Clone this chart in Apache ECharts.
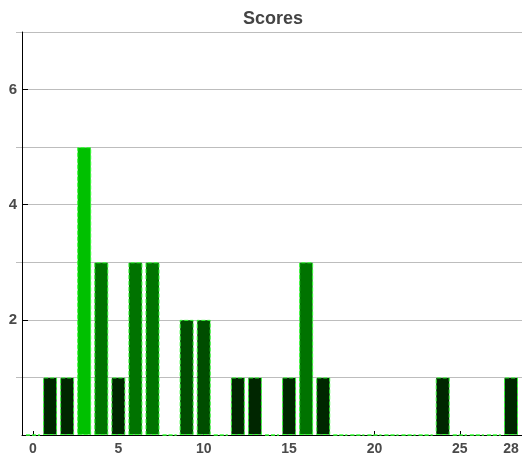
<!DOCTYPE html>
<html>
<head>
<meta charset="utf-8">
<script src="https://cdn.jsdelivr.net/npm/echarts@6/dist/echarts.min.js"></script>
<style>
html, body { margin: 0; padding: 0; background: #fff; }
#chart { width: 522px; height: 456px; }
</style>
</head>
<body>
<div id="chart"></div>
<script>
var scores = [0, 1, 2, 3, 4, 5, 6, 7, 8, 9, 10, 11, 12, 13, 14, 15, 16, 17, 18, 19, 20, 21, 22, 23, 24, 25, 26, 27, 28];
var counts = [0, 1, 1, 5, 3, 1, 3, 3, 0, 2, 2, 0, 1, 1, 0, 1, 3, 1, 0, 0, 0, 0, 0, 0, 1, 0, 0, 0, 1];
var xTicks = [0, 5, 10, 15, 20, 25, 28];
var yTicks = [2, 4, 6];
var yMinorTicks = [1, 3, 5, 7];

var font = 'Liberation Sans, Arial, Helvetica, sans-serif';
var chart = echarts.init(document.getElementById('chart'));

var points = [];
for (var i = 0; i < scores.length; i++) {
	points.push([scores[i], counts[i]]);
}

var option = {
	animation: false,
	title: {
		text: 'Scores',
		left: 268,
		textAlign: 'center',
		top: 5,
		textStyle: { fontFamily: font, fontSize: 18, fontWeight: 'bold', color: '#444' }
	},
	grid: { left: 22, right: 0, top: 32, bottom: 21 },
	visualMap: {
		show: false,
		dimension: 1,
		min: 0,
		max: 5,
		inRange: { color: ['#000000', '#00c000'] }
	},
	xAxis: {
		type: 'value',
		min: -0.644,
		max: 28.644,
		splitLine: { show: false },
		axisLine: { lineStyle: { color: '#000', width: 1 } },
		axisTick: { inside: true, length: 4, customValues: xTicks, lineStyle: { color: '#000' } },
		axisLabel: {
			customValues: xTicks,
			margin: 7,
			fontFamily: font, fontSize: 14, fontWeight: 'bold', color: '#4a4a4a'
		}
	},
	yAxis: [{
		type: 'value',
		min: 0,
		max: 7,
		interval: 1,
		splitLine: { lineStyle: { color: '#bdbdbd', width: 1 } },
		axisLine: { show: true, onZero: false, lineStyle: { color: '#000', width: 1 } },
		axisTick: { show: true, inside: true, length: 6, customValues: yTicks, lineStyle: { color: '#000' } },
		axisLabel: {
			customValues: yTicks,
			margin: 5,
			fontFamily: font, fontSize: 15, fontWeight: 'bold', color: '#4a4a4a'
		}
	}, {
		type: 'value',
		min: 0,
		max: 7,
		interval: 1,
		position: 'left',
		splitLine: { show: true, lineStyle: { color: '#bdbdbd', width: 1 } },
		axisLine: { show: false, onZero: false },
		axisTick: { show: true, inside: false, length: 6, customValues: yMinorTicks, lineStyle: { color: '#bdbdbd' } },
		axisLabel: { show: false }
	}],
	series: [{
		type: 'bar',
		data: points,
		barWidth: 14,
		itemStyle: {
			borderColor: '#33ff33',
			borderWidth: 1,
			borderType: 'dashed'
		}
	}]
};

chart.setOption(option);
</script>
</body>
</html>
